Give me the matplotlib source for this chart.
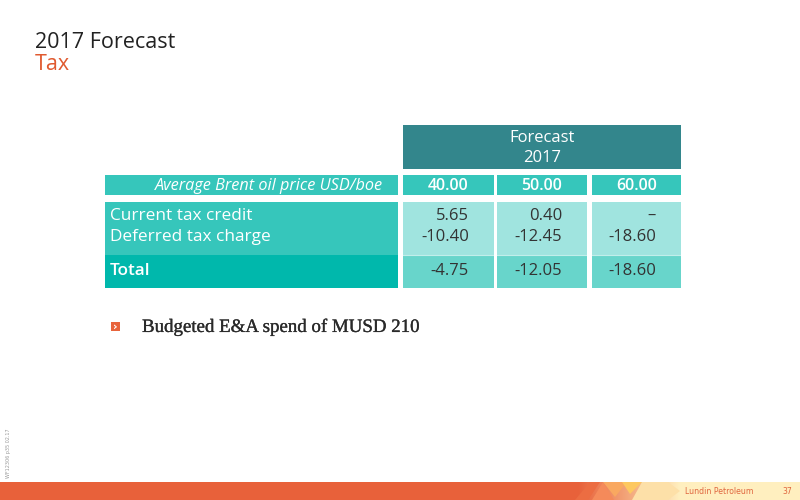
import matplotlib
matplotlib.use("Agg")
import matplotlib.pyplot as plt
from matplotlib.patches import Rectangle, Polygon
import matplotlib.patheffects as pe
import numpy as np

# table data
prices = ["40.00", "50.00", "60.00"]
row_labels = ["Current tax credit", "Deferred tax charge"]
current_tax = ["5.65", "0.40", "\u2013"]
deferred_tax = ["-10.40", "-12.45", "-18.60"]
total_label = "Total"
total_tax = ["-4.75", "-12.05", "-18.60"]

header_dark = "#33868c"
teal = "#36c6bb"
teal_total = "#00b8ac"
cell_light = "#a0e4df"
cell_total = "#68d5cb"
orange = "#e8613a"
text_dark = "#333333"

fig = plt.figure(figsize=(8, 5), dpi=100)
ax = fig.add_axes([0, 0, 1, 1])
ax.set_xlim(0, 800)
ax.set_ylim(500, 0)
ax.axis("off")

# title
ax.text(35, 42, "2017 Forecast", fontsize=15.5, color="#222222", va="center", family="Open Sans")
ax.text(35, 64, "Tax", fontsize=15.5, color="#e05a30", va="center", family="Open Sans")

# column layout
col_left = [403, 497, 592]
col_w = [91, 90, 89]
label_x0, label_x1 = 105, 398

# header
ax.add_patch(Rectangle((403, 125), 278, 44, color=header_dark, lw=0))
ax.text(542, 138, "Forecast", color="white", fontsize=12, ha="center", va="center", family="Open Sans")
ax.text(542, 158, "2017", color="white", fontsize=12, ha="center", va="center", family="Open Sans")

# oil price row
ax.add_patch(Rectangle((label_x0, 175), label_x1 - label_x0, 20, color=teal, lw=0))
ax.text(383, 185.5, "Average Brent oil price USD/boe", color="white", fontsize=11.7,
        style="italic", ha="right", va="center", family="Open Sans")
for i, p in enumerate(prices):
    ax.add_patch(Rectangle((col_left[i], 175), col_w[i], 20, color=teal, lw=0))
    ax.text(col_left[i] + col_w[i] / 2, 185.5, p, color="white", fontsize=11.5,
            ha="center", va="center", family="Open Sans", weight="semibold")

# body rows
ax.add_patch(Rectangle((label_x0, 202), label_x1 - label_x0, 53, color=teal, lw=0))
ax.add_patch(Rectangle((label_x0, 255), label_x1 - label_x0, 33, color=teal_total, lw=0))
for j, lab in enumerate(row_labels):
    ax.text(110, 216 + j * 21, lab, color="white", fontsize=12.4, va="center", family="Open Sans")
ax.text(110, 271, total_label, color="white", fontsize=12.4, va="center", family="Open Sans",
        weight="semibold")

for i in range(len(prices)):
    x0 = col_left[i]
    ax.add_patch(Rectangle((x0, 202), col_w[i], 53, color=cell_light, lw=0))
    ax.add_patch(Rectangle((x0, 255), col_w[i], 33, color=cell_total, lw=0))
    ax.plot([x0, x0 + col_w[i]], [255, 255], color="white", lw=0.8, alpha=0.6)
    xr = x0 + col_w[i] - 25
    ax.text(xr, 216, current_tax[i], color=text_dark, fontsize=12, ha="right", va="center",
            family="Open Sans")
    ax.text(xr, 237, deferred_tax[i], color=text_dark, fontsize=12, ha="right", va="center",
            family="Open Sans")
    ax.text(xr, 271, total_tax[i], color=text_dark, fontsize=12, ha="right", va="center",
            family="Open Sans")

# bullet
ax.add_patch(Rectangle((111, 322), 9, 9, color="#e8643c", lw=0))
ax.text(115.5, 326.5, "\u203a", color="white", fontsize=8, ha="center", va="center", weight="bold")
ax.text(142, 327, "Budgeted E&A spend of MUSD 210", fontsize=13.6, color="#2a2a2a",
        va="center", family="Liberation Serif",
        path_effects=[pe.withStroke(linewidth=0.2, foreground="#2a2a2a")])

# side code
ax.text(9, 453, "WF12306 p35 02.17", fontsize=3.5, color="#999999", rotation=90,
        ha="center", va="center")

# bottom bar with gradient
ax.add_patch(Rectangle((0, 482), 800, 18, color=orange, lw=0))
grad = np.linspace(0, 1, 256)
c0 = np.array([0xe8, 0x61, 0x3a]) / 255
c1 = np.array([0xff, 0xef, 0xbf]) / 255
img = c0[None, :] * (1 - grad[:, None]) + c1[None, :] * grad[:, None]
ax.imshow(img[None, :, :], extent=(578, 680, 500, 482), aspect="auto", zorder=2)
ax.add_patch(Rectangle((680, 482), 120, 18, color="#ffefbf", lw=0, zorder=2))
facets = [
    ([(575, 500), (590, 482), (600, 482), (588, 500)], "#ec6d42"),
    ([(592, 500), (603, 482), (614, 500)], "#f58a5a"),
    ([(603, 482), (627, 482), (615, 497)], "#f9a860"),
    ([(622, 482), (642, 482), (630, 494)], "#fdc860"),
    ([(642, 482), (668, 482), (680, 491), (668, 500), (632, 500)], "#fde0a8"),
]
for pts, col in facets:
    ax.add_patch(Polygon(pts, closed=True, color=col, lw=0, zorder=3))
ax.set_xlim(0, 800)
ax.set_ylim(500, 0)
ax.text(685, 491, "Lundin Petroleum", fontsize=5.6, color="#e0663e", va="center", zorder=4)
ax.text(787, 491, "37", fontsize=5.6, color="#e0663e", va="center", ha="center", zorder=4)

fig.savefig("out.png", dpi=100)
